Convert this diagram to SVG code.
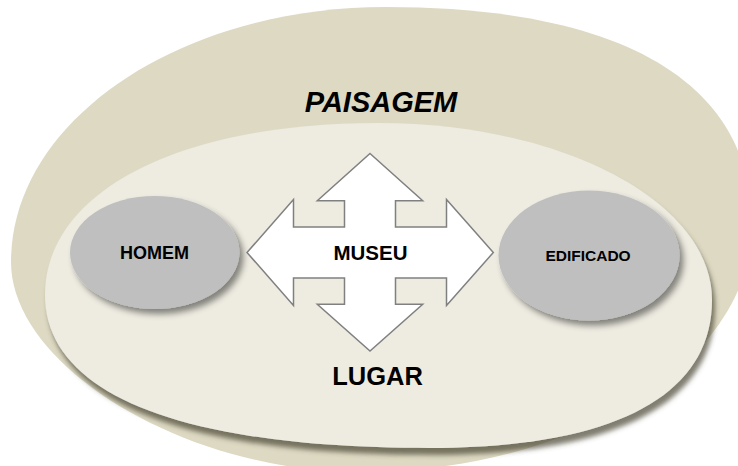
<svg xmlns="http://www.w3.org/2000/svg" width="738" height="466" viewBox="0 0 738 466">
<style>
.t{font-family:"Liberation Sans",Arial,sans-serif;font-weight:bold;fill:#000;text-anchor:middle}
.oval{fill:#bfbfbf}
.cross{fill:#fff;stroke:#808080;stroke-width:1.5;stroke-linejoin:miter}
</style>
<defs>
<filter id="shIn" x="-10%" y="-10%" width="125%" height="130%">
<feDropShadow dx="3" dy="7" stdDeviation="2.5" flood-color="#4a4733" flood-opacity="0.7"/>
</filter>
<filter id="sh" x="-20%" y="-20%" width="150%" height="150%">
<feDropShadow dx="4" dy="5" stdDeviation="3" flood-color="#000" flood-opacity="0.45"/>
</filter>
</defs>
<rect width="738" height="466" fill="#fff"/>
<g id="paisagem">
<path d="M 11,262 C 11,121 179,7 386,7 C 624,7 752,83 752,225 C 752,361 576,472 360,472 C 185.5,472 11,367 11,262 Z" fill="#ddd9c3"/>
<text class="t" x="381" y="112" font-size="29" font-style="italic">PAISAGEM</text>
</g>
<g id="lugar">
<path d="M 45,295 C 45,192 178,123 378,123 C 562,123 712,202 712,300 C 712,396 613,448 430,448 C 180,448 45,394 45,295 Z" fill="#eeece1" filter="url(#shIn)"/>
<text class="t" x="377.5" y="385" font-size="25.5">LUGAR</text>
</g>
<g id="homem">
<ellipse class="oval" cx="154.7" cy="252.5" rx="84.7" ry="56.5" filter="url(#sh)"/>
<text class="t" x="154.5" y="259" font-size="18">HOMEM</text>
</g>
<g id="edificado">
<ellipse class="oval" cx="589" cy="255.5" rx="90.5" ry="65" filter="url(#sh)"/>
<text class="t" x="588" y="261" font-size="15.5">EDIFICADO</text>
</g>
<g id="museu">
<polygon class="cross" points="370,153.5 422.7,200.7 395.5,200.7 395.5,227 446.5,227 446.5,199.5 493.3,252.5 446.5,305.5 446.5,278 395.5,278 395.5,304.3 422.7,304.3 370,351 317.3,304.3 344.5,304.3 344.5,278 293.5,278 293.5,305.5 247,252.5 293.5,199.5 293.5,227 344.5,227 344.5,200.7 317.3,200.7"/>
<text class="t" x="370.5" y="259.5" font-size="20.5">MUSEU</text>
</g>
<g id="connectors"></g>
</svg>
